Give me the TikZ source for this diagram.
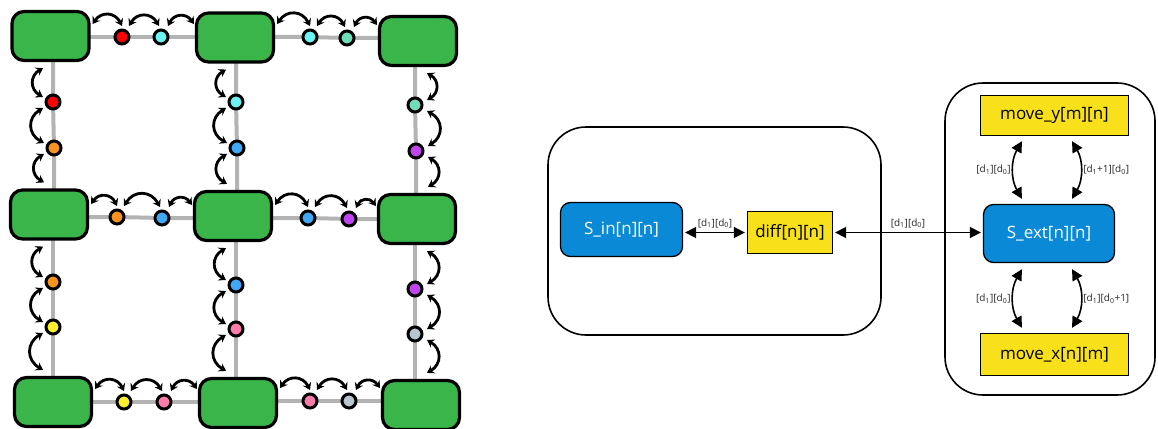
\documentclass[tikz,border=0pt]{standalone}
\usepackage{fontspec}
\setmainfont{Open Sans}
\usetikzlibrary{arrows.meta,calc,backgrounds}
\definecolor{cgreen}{HTML}{39B54A}
\definecolor{cgrid}{HTML}{B3B3B3}
\definecolor{cred}{HTML}{FF0000}
\definecolor{ccyan}{HTML}{6CF2F2}
\definecolor{cmint}{HTML}{6EDDB8}
\definecolor{corange}{HTML}{F7931E}
\definecolor{cblue}{HTML}{3FA9F5}
\definecolor{cpurple}{HTML}{C045F0}
\definecolor{cyellow}{HTML}{FFF02A}
\definecolor{cpink}{HTML}{FF7BAC}
\definecolor{cslate}{HTML}{B8C6CF}
\definecolor{cboxblue}{HTML}{0A89D6}
\definecolor{cboxyellow}{HTML}{F8E11A}
\begin{document}
\begin{tikzpicture}[x=1pt,y=1pt,
  gbox/.style={draw=black,line width=3.2pt,fill=cgreen,rounded corners=12pt,minimum width=77pt,minimum height=49pt,inner sep=0pt},
  dot/.style={circle,draw=black,line width=3pt,minimum size=14pt,inner sep=0pt,fill=#1},
  gridline/.style={draw=cgrid,line width=4pt},
  hop/.style={line width=2.8pt,{Stealth[length=7pt,width=9pt,inset=2.5pt]}-{Stealth[length=7pt,width=9pt,inset=2.5pt]}},
  outerbox/.style={draw=black,line width=1.6pt,rounded corners=38pt,inner sep=0pt},
  bluebox/.style={draw=black,line width=1.3pt,fill=cboxblue,rounded corners=10pt,text=white,font=\fontsize{17}{20}\selectfont,inner sep=0pt},
  yellowbox/.style={draw=black,line width=1.3pt,fill=cboxyellow,text=black,font=\fontsize{17}{20}\selectfont,inner sep=0pt},
  dbl/.style={line width=1.6pt,{Triangle[length=11pt,width=11pt]}-{Triangle[length=11pt,width=11pt]}},
  lbl/.style={font=\fontsize{10}{11}\selectfont,text=black!85,inner sep=1pt}
]
\useasboundingbox (0,0) rectangle (1158,-428);

% ---------- grid: boxes ----------
\node[gbox] (b11) at (50.5,-36) {};
\node[gbox] (b12) at (235,-37.5) {};
\node[gbox] (b13) at (418,-41) {};
\node[gbox] (b21) at (49,-214.5) {};
\node[gbox] (b22) at (233,-216) {};
\node[gbox] (b23) at (417,-219) {};
\node[gbox] (b31) at (53,-402) {};
\node[gbox] (b32) at (238,-403) {};
\node[gbox] (b33) at (421,-405) {};

% ---------- grid: horizontal dots ----------
\node[dot=cred]    (h11a) at (122,-37) {};
\node[dot=ccyan]   (h11b) at (161,-37) {};
\node[dot=ccyan]   (h12a) at (310,-37) {};
\node[dot=cmint]   (h12b) at (347,-38) {};
\node[dot=corange] (h21a) at (117,-217) {};
\node[dot=cblue]   (h21b) at (162,-218) {};
\node[dot=cblue]   (h22a) at (308,-218) {};
\node[dot=cpurple] (h22b) at (349,-219) {};
\node[dot=cyellow] (h31a) at (124,-402) {};
\node[dot=cpink]   (h31b) at (164,-402) {};
\node[dot=cpink]   (h32a) at (310,-401) {};
\node[dot=cslate]  (h32b) at (349,-401) {};

% ---------- grid: vertical dots ----------
\node[dot=cred]    (v11a) at (53,-102) {};
\node[dot=corange] (v11b) at (54,-148) {};
\node[dot=corange] (v12a) at (53,-282) {};
\node[dot=cyellow] (v12b) at (53,-327) {};
\node[dot=ccyan]   (v21a) at (236,-102) {};
\node[dot=cblue]   (v21b) at (237,-148) {};
\node[dot=cblue]   (v22a) at (236,-285) {};
\node[dot=cpink]   (v22b) at (236,-329) {};
\node[dot=cmint]   (v31a) at (415,-105) {};
\node[dot=cpurple] (v31b) at (416,-151) {};
\node[dot=cpurple] (v32a) at (415,-289) {};
\node[dot=cslate]  (v32b) at (415,-334) {};

% ---------- grid lines behind ----------
\begin{pgfonlayer}{background}
\foreach \L/\A/\B/\R in {b11/h11a/h11b/b12,b12/h12a/h12b/b13,b21/h21a/h21b/b22,b22/h22a/h22b/b23,b31/h31a/h31b/b32,b32/h32a/h32b/b33}{
  \draw[gridline] (\A.center -| \L.center) -- (\A.center) -- (\B.center) -- (\B.center -| \R.center);
}
\foreach \T/\A/\B/\D in {b11/v11a/v11b/b21,b21/v12a/v12b/b31,b12/v21a/v21b/b22,b22/v22a/v22b/b32,b13/v31a/v31b/b23,b23/v32a/v32b/b33}{
  \draw[gridline] (\A.center |- \T.center) -- (\A.center) -- (\B.center) -- (\B.center |- \D.center);
}
\end{pgfonlayer}

% ---------- grid: hop arrows ----------
\foreach \L/\A/\B/\R in {b11/h11a/h11b/b12,b12/h12a/h12b/b13,b21/h21a/h21b/b22,b22/h22a/h22b/b23,b31/h31a/h31b/b32,b32/h32a/h32b/b33}{
  \draw[hop] ($(\A.center -| \L.east)+(2,13)$) to[bend left=60,looseness=1.35] ($(\A.center)+(0,11)$);
  \draw[hop] ($(\A.center)+(7,11)$) to[bend left=60,looseness=1.35] ($(\B.center)+(-2,11)$);
  \draw[hop] ($(\B.center)+(7,11)$) to[bend left=60,looseness=1.35] ($(\B.center -| \R.west)+(-1,13)$);
}
\foreach \T/\A/\B/\D in {b11/v11a/v11b/b21,b21/v12a/v12b/b31,b12/v21a/v21b/b22,b22/v22a/v22b/b32}{
  \draw[hop] ($(\A.center |- \T.south)+(-10,-6)$) to[bend right=60,looseness=1.35] ($(\A.center)+(-10,5)$);
  \draw[hop] ($(\A.center)+(-10,-6)$) to[bend right=60,looseness=1.35] ($(\B.center)+(-10,5)$);
  \draw[hop] ($(\B.center)+(-10,-6)$) to[bend right=60,looseness=1.35] ($(\B.center |- \D.north)+(-10,6)$);
}
\foreach \T/\A/\B/\D in {b13/v31a/v31b/b23,b23/v32a/v32b/b33}{
  \draw[hop] ($(\A.center |- \T.south)+(12,-6)$) to[bend left=60,looseness=1.35] ($(\A.center)+(12,5)$);
  \draw[hop] ($(\A.center)+(12,-6)$) to[bend left=60,looseness=1.35] ($(\B.center)+(12,5)$);
  \draw[hop] ($(\B.center)+(12,-6)$) to[bend left=60,looseness=1.35] ($(\B.center |- \D.north)+(12,6)$);
}

% ---------- right part ----------
\node[outerbox,minimum width=333pt,minimum height=208pt] (lframe) at (714.5,-231) {};
\node[outerbox,minimum width=210pt,minimum height=312pt] (rframe) at (1050,-239) {};
\node[bluebox,minimum width=122pt,minimum height=54pt] (sin) at (621.5,-229.5) {S\_in[n][n]};
\node[yellowbox,minimum width=85pt,minimum height=42pt] (diff) at (790,-232.5) {diff[n][n]};
\node[yellowbox,minimum width=148pt,minimum height=40pt] (movey) at (1054.5,-115.5) {move\_y[m][n]};
\node[bluebox,minimum width=131pt,minimum height=58pt] (sext) at (1049,-233.5) {S\_ext[n][n]};
\node[yellowbox,minimum width=148pt,minimum height=42pt] (movex) at (1054.5,-354.5) {move\_x[n][m]};

\draw[dbl,shorten <=2pt,shorten >=2pt] (sin.east |- diff.west) -- (diff.west)
  node[lbl,midway,above=3pt] {[d\textsubscript{1}][d\textsubscript{0}]};
\draw[dbl,shorten <=2pt,shorten >=2pt] (diff.east) -- (diff.east -| sext.west)
  node[lbl,midway,above=3pt] {[d\textsubscript{1}][d\textsubscript{0}]};

\draw[dbl] ($(movey.south)+(-32.5,-5)$) to[bend right=30]
  node[lbl,left=1pt] {[d\textsubscript{1}][d\textsubscript{0}]} ($(movey.south |- sext.north)+(-32.5,5)$);
\draw[dbl] ($(movey.south)+(17.5,-5)$) to[bend left=30]
  node[lbl,right=1pt] {[d\textsubscript{1}+1][d\textsubscript{0}]} ($(movey.south |- sext.north)+(17.5,5)$);
\draw[dbl] ($(movex.north |- sext.south)+(-32.5,-6)$) to[bend right=30]
  node[lbl,left=1pt] {[d\textsubscript{1}][d\textsubscript{0}]} ($(movex.north)+(-32.5,5)$);
\draw[dbl] ($(movex.north |- sext.south)+(17.5,-6)$) to[bend left=30]
  node[lbl,right=1pt] {[d\textsubscript{1}][d\textsubscript{0}+1]} ($(movex.north)+(17.5,5)$);
\end{tikzpicture}
\end{document}
